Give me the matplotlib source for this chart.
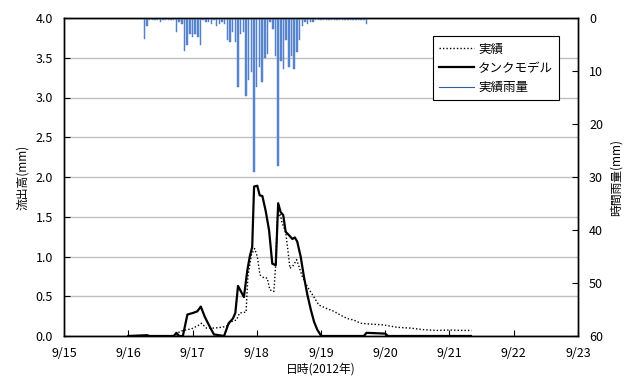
import numpy as np
import matplotlib
matplotlib.use("Agg")
import matplotlib.pyplot as plt

plt.rcParams['font.family'] = ['Noto Sans CJK JP', 'DejaVu Sans']
plt.rcParams['font.size'] = 8

# time in hours since 9/15 0:00
rain_hour = [30, 31, 32, 33, 34, 35, 36, 37, 38, 39, 40, 41, 42, 43, 44, 45, 46, 47, 48, 49,
             50, 51, 52, 53, 54, 55, 56, 57, 58, 59, 60, 61, 62, 63, 64, 65, 66, 67, 68, 69,
             70, 71, 72, 73, 74, 75, 76, 77, 78, 79, 80, 81, 82, 83, 84, 85, 86, 87, 88, 89,
             90, 91, 92, 93, 94, 95, 96, 97, 98, 99, 100, 101, 102, 103, 104, 105, 106, 107,
             108, 109, 110, 111, 112, 113]
rain_mm = [4.0, 1.6, 0.3, 0.3, 0.3, 0.3, 0.7, 0.3, 0.3, 0.3, 0.3, 0.3, 2.6, 0.7, 1.1, 6.2, 5.1, 3.1, 3.6, 3.0,
           3.5, 5.1, 0.3, 0.7, 0.7, 1.1, 0.3, 1.6, 1.1, 0.7, 1.1, 4.2, 4.6, 2.6, 4.6, 13.1, 3.1, 2.6, 14.7, 11.7,
           10.1, 29.1, 13.1, 9.2, 12.0, 7.6, 6.7, 0.7, 2.1, 7.2, 28.0, 8.1, 9.6, 4.2, 9.2, 7.1, 9.6, 6.5, 4.2, 1.6,
           0.7, 1.1, 0.7, 0.7, 0.3, 0.3, 0.3, 0.3, 0.3, 0.3, 0.3, 0.3, 0.3, 0.3, 0.3, 0.3, 0.3, 0.3,
           0.3, 0.3, 0.3, 0.3, 0.3, 1.1]

tank_hour = [24, 31, 32, 41, 42, 43, 44.4, 46.1, 48.2, 49.8, 51.1, 52.6, 54.4, 56.0, 59.8, 61.5, 63.1,
             64.0, 65.0, 67.2, 68.5, 69.4, 70.3, 71.0, 72.2, 73.1, 74.1, 75.3, 76.6, 77.8, 79.1, 80.0,
             80.9, 81.9, 82.8, 84.0, 85.3, 86.2, 87.1, 88.4, 89.6, 90.9, 92.2, 93.4, 94.6, 95.9, 96.4,
             112, 113, 120, 121, 152]
tank_flow = [0, 0.01, 0, 0, 0.04, 0, 0, 0.27, 0.29, 0.31, 0.37, 0.24, 0.12, 0.02, 0, 0.16, 0.22,
             0.29, 0.63, 0.49, 0.83, 1.0, 1.12, 1.88, 1.89, 1.77, 1.76, 1.58, 1.33, 0.91, 0.89, 1.67,
             1.56, 1.52, 1.31, 1.27, 1.22, 1.24, 1.19, 1.0, 0.75, 0.52, 0.33, 0.18, 0.08, 0.01, 0,
             0, 0.04, 0.03, 0, 0]

obs_hour = [24, 42, 43, 44.4, 47.6, 50, 51.3, 53.2, 56.3, 58.8, 60.6, 62.5, 64.4, 65.6, 68, 68.7, 70,
            71.2, 72.2, 73.2, 74.7, 75.9, 76.9, 78.4, 79.1, 79.7, 80.7, 81.5, 82.8, 83.7, 84.4, 85.7,
            86.9, 87.8, 89.0, 90.9, 92.8, 95.2, 97.8, 100.9, 103.4, 105.8, 108.3, 110.8, 114.3, 119.3,
            124.3, 129.2, 134.2, 139.2, 144.2, 149.2, 152.3]
obs_flow = [0, 0, 0.05, 0.07, 0.09, 0.13, 0.16, 0.10, 0.10, 0.11, 0.12, 0.18, 0.2, 0.29, 0.3, 0.75, 1.02,
            1.10, 1.0, 0.77, 0.73, 0.73, 0.58, 0.56, 0.91, 1.48, 1.54, 1.42, 1.31, 1.06, 0.85, 0.89,
            0.96, 0.87, 0.75, 0.62, 0.52, 0.39, 0.35, 0.31, 0.26, 0.22, 0.2, 0.16, 0.15, 0.14,
            0.11, 0.10, 0.08, 0.07, 0.075, 0.07, 0.07]

date_labels = ['9/15', '9/16', '9/17', '9/18', '9/19', '9/20', '9/21', '9/22', '9/23']

fig = plt.figure(figsize=(6.33, 3.79), dpi=100)
ax = fig.add_axes([64/633, 1-336/379, 514/633, 318/379])
ax2 = ax.twinx()

l1, = ax.plot(obs_hour, obs_flow, color='black', linestyle=(0, (1, 1.5)), linewidth=1.0, label='実績')
l2, = ax.plot(tank_hour, tank_flow, color='black', linewidth=1.6, label='タンクモデル')
bars = ax2.bar(rain_hour, rain_mm, width=0.55, color='#5B8BD3', edgecolor='#4472C4',
               linewidth=0.3, align='center')
l3, = ax2.plot([], [], color='#2F5DA8', linewidth=0.8, label='実績雨量')

ax.set_xlim(0, 192)
ax.set_ylim(0, 4.0)
ax.set_yticks(np.arange(0, 4.01, 0.5))
ax.set_yticklabels(['%.1f' % v for v in np.arange(0, 4.01, 0.5)])
ax.set_xticks(np.arange(0, 193, 24))
ax.set_xticklabels(date_labels)
ax.grid(axis='y', color='#C0C0C0', linewidth=1.0)
ax.set_axisbelow(True)
ax.tick_params(direction='in', length=4, width=0.8, pad=8, labelsize=9)
ax.tick_params(axis='x', pad=8)

ax2.set_ylim(60, 0)
ax2.set_yticks(np.arange(0, 61, 10))
ax2.tick_params(direction='in', length=4, width=0.8, pad=8, labelsize=9)

for a in (ax, ax2):
    for s in a.spines.values():
        s.set_color('black')
        s.set_linewidth(1.0)

ax.set_ylabel('流出高(mm)', fontsize=8.5, labelpad=5)
ax2.set_ylabel('時間雨量(mm)', fontsize=8.5, labelpad=5)
ax.set_xlabel('日時(2012年)', fontsize=8.5, labelpad=2)

leg = ax2.legend(handles=[l1, l2, l3], loc='upper left', bbox_to_anchor=(0.706, 0.962),
                 fancybox=False, edgecolor='black', framealpha=1, fontsize=9,
                 handlelength=2.8, handletextpad=0.3, borderpad=0.5, labelspacing=0.5)
leg.get_frame().set_linewidth(0.8)

fig.savefig('out.png', dpi=100)
